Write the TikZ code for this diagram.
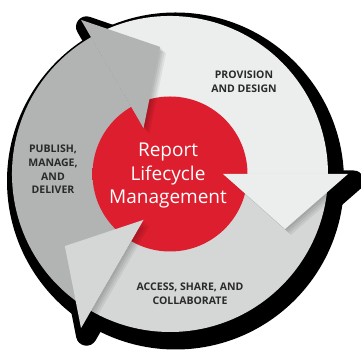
\documentclass[tikz,border=0pt]{standalone}
\usepackage{fontspec}
\setmainfont{Open Sans}
\definecolor{lightA}{HTML}{ECEDED}
\definecolor{medA}{HTML}{D5D6D6}
\definecolor{darkA}{HTML}{B2B3B3}
\definecolor{redA}{HTML}{DC1E2E}
\definecolor{redEdge}{HTML}{B5141F}
\definecolor{txt}{HTML}{2A2A2A}
\pgfdeclareradialshading{redball}{\pgfpoint{0bp}{0bp}}{color(0bp)=(redA); color(40bp)=(redA); color(50bp)=(redEdge)}
\newcommand\arrowhead[1]{(#1:53) -- (#1:178) -- ({115*cos(#1)+55*sin(#1)},{115*sin(#1)-55*cos(#1)}) -- cycle}
\newcommand\ringpart[2]{(#1:158) arc[start angle=#1,end angle=#2,radius=158] -- (#2:60) arc[start angle=#2,end angle=#1,radius=60] -- cycle}
\tikzset{
  label/.style={font=\fontsize{10.5}{13.6}\selectfont\bfseries, text=txt, align=center, inner sep=0pt},
  title/.style={font=\fontsize{19}{23.5}\selectfont, text=white, align=center, inner sep=0pt},
  headshadow/.style={fill=black, fill opacity=0.06}
}
\begin{document}
\begin{tikzpicture}[x=1pt,y=1pt]
\useasboundingbox (0,0) rectangle (361,352);
% black drop outline
\begin{scope}[shift={(175.5,171)}]
  \filldraw[black, line width=21pt, line join=round] (0,0) circle (158);
  \filldraw[black, line width=21pt, line join=round] \arrowhead{0};
  \filldraw[black, line width=21pt, line join=round] \arrowhead{120};
  \filldraw[black, line width=21pt, line join=round] \arrowhead{240};
\end{scope}
\begin{scope}[shift={(170,178)}]
  % arrow bodies
  \fill[lightA] \ringpart{120}{0};
  \fill[darkA] \ringpart{240}{120};
  \fill[medA] \ringpart{360}{240};
  % red centre
  \shade[shading=redball] (0,0) circle (77.5);
  % shadows of the heads
  \foreach \d in {1.5,3,4.5,6}{
    \begin{scope}[shift={(\d,-\d)}]
      \fill[headshadow] \arrowhead{0};
      \fill[headshadow] \arrowhead{120};
      \fill[headshadow] \arrowhead{240};
    \end{scope}
  }
  % arrow heads
  \fill[lightA] \arrowhead{0};
  \fill[darkA] \arrowhead{120};
  \fill[medA] \arrowhead{240};
\end{scope}
% texts
\node[label] (provision) at (244,270) {PROVISION\\AND DESIGN};
\node[label] (publish) at (53,182.5) {PUBLISH,\\MANAGE,\\AND\\DELIVER};
\node[label] (access) at (190,58) {ACCESS, SHARE, AND\\COLLABORATE};
\node[title] (report) at (168,176) {Report\\Lifecycle\\Management};
\end{tikzpicture}
\end{document}
